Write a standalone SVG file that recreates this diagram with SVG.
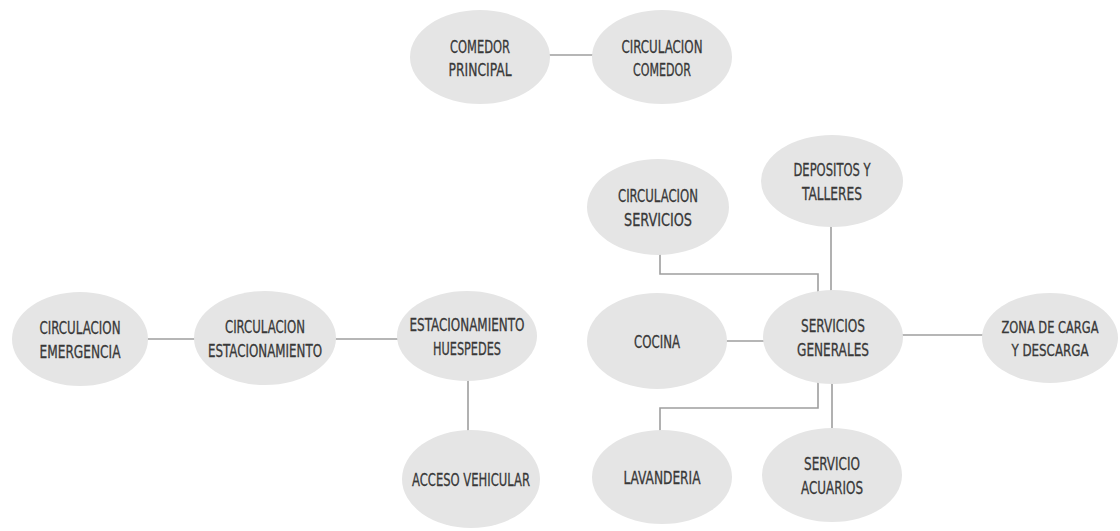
<svg xmlns="http://www.w3.org/2000/svg" width="1120" height="531" viewBox="0 0 1120 531">
<style>
.n{fill:#e5e5e5;stroke:none}
.t{font-family:"DejaVu Sans Condensed","DejaVu Sans",sans-serif;font-size:18px;fill:#383838;stroke:#383838;stroke-width:0.3;text-anchor:middle}
.s{font-size:16px}
.c{fill:none;stroke:#9e9e9e;stroke-width:1.6}
</style>
<rect width="1120" height="531" fill="#fff"/>
<g id="connectors">
<line class="c" x1="548" y1="55" x2="594" y2="55"/>
<line class="c" x1="146" y1="339" x2="195" y2="339"/>
<line class="c" x1="335" y1="339" x2="399" y2="339"/>
<line class="c" x1="468" y1="378" x2="468" y2="431"/>
<polyline class="c" points="660,254 660,274 818,274 818,292"/>
<line class="c" x1="831" y1="226" x2="831" y2="292"/>
<line class="c" x1="726" y1="341" x2="764" y2="341"/>
<line class="c" x1="901" y1="335" x2="985" y2="335"/>
<polyline class="c" points="660,431 660,408 818,408 818,382"/>
<line class="c" x1="832" y1="382" x2="832" y2="429"/>
</g>
<g id="comedor-principal"><ellipse class="n" cx="480" cy="57" rx="70" ry="47"/><text class="t" x="480" y="53" textLength="60" lengthAdjust="spacingAndGlyphs">COMEDOR</text><text class="t" x="480" y="76" textLength="63" lengthAdjust="spacingAndGlyphs">PRINCIPAL</text></g>
<g id="circulacion-comedor"><ellipse class="n" cx="662" cy="57" rx="70" ry="47"/><text class="t" x="662" y="53" textLength="81" lengthAdjust="spacingAndGlyphs">CIRCULACION</text><text class="t" x="662" y="76" textLength="58" lengthAdjust="spacingAndGlyphs">COMEDOR</text></g>
<g id="circulacion-emergencia"><ellipse class="n" cx="80" cy="339" rx="68" ry="47"/><text class="t" x="80" y="334" textLength="81" lengthAdjust="spacingAndGlyphs">CIRCULACION</text><text class="t" x="80" y="358" textLength="81" lengthAdjust="spacingAndGlyphs">EMERGENCIA</text></g>
<g id="circulacion-estacionamiento"><ellipse class="n" cx="265" cy="338" rx="71" ry="47"/><text class="t" x="265" y="333" textLength="80" lengthAdjust="spacingAndGlyphs">CIRCULACION</text><text class="t" x="265" y="357" textLength="114" lengthAdjust="spacingAndGlyphs">ESTACIONAMIENTO</text></g>
<g id="estacionamiento-huespedes"><ellipse class="n" cx="467" cy="336" rx="70" ry="45"/><text class="t" x="467" y="331" textLength="115" lengthAdjust="spacingAndGlyphs">ESTACIONAMIENTO</text><text class="t" x="467" y="355" textLength="68" lengthAdjust="spacingAndGlyphs">HUESPEDES</text></g>
<g id="acceso-vehicular"><ellipse class="n" cx="471" cy="479" rx="69" ry="49"/><text class="t" x="471" y="486" textLength="118" lengthAdjust="spacingAndGlyphs">ACCESO VEHICULAR</text></g>
<g id="circulacion-servicios"><ellipse class="n" cx="658" cy="207" rx="71" ry="48"/><text class="t" x="658" y="202" textLength="80" lengthAdjust="spacingAndGlyphs">CIRCULACION</text><text class="t" x="658" y="226" textLength="68" lengthAdjust="spacingAndGlyphs">SERVICIOS</text></g>
<g id="depositos-talleres"><ellipse class="n" cx="832" cy="181" rx="71" ry="46"/><text class="t" x="832" y="176" textLength="77" lengthAdjust="spacingAndGlyphs">DEPOSITOS Y</text><text class="t" x="832" y="200" textLength="60" lengthAdjust="spacingAndGlyphs">TALLERES</text></g>
<g id="cocina"><ellipse class="n" cx="657" cy="341" rx="70" ry="48"/><text class="t" x="657" y="348" textLength="46" lengthAdjust="spacingAndGlyphs">COCINA</text></g>
<g id="servicios-generales"><ellipse class="n" cx="833" cy="337" rx="70" ry="47"/><text class="t" x="833" y="332" textLength="64" lengthAdjust="spacingAndGlyphs">SERVICIOS</text><text class="t" x="833" y="356" textLength="72" lengthAdjust="spacingAndGlyphs">GENERALES</text></g>
<g id="zona-carga-descarga"><ellipse class="n" cx="1050" cy="338" rx="68" ry="45"/><text class="t s" x="1050" y="333" textLength="97" lengthAdjust="spacingAndGlyphs">ZONA DE CARGA</text><text class="t s" x="1050" y="356" textLength="77" lengthAdjust="spacingAndGlyphs">Y DESCARGA</text></g>
<g id="lavanderia"><ellipse class="n" cx="662" cy="477" rx="70" ry="47"/><text class="t" x="662" y="484" textLength="77" lengthAdjust="spacingAndGlyphs">LAVANDERIA</text></g>
<g id="servicio-acuarios"><ellipse class="n" cx="832" cy="475" rx="70" ry="47"/><text class="t" x="832" y="470" textLength="56" lengthAdjust="spacingAndGlyphs">SERVICIO</text><text class="t" x="832" y="494" textLength="62" lengthAdjust="spacingAndGlyphs">ACUARIOS</text></g>
</svg>
